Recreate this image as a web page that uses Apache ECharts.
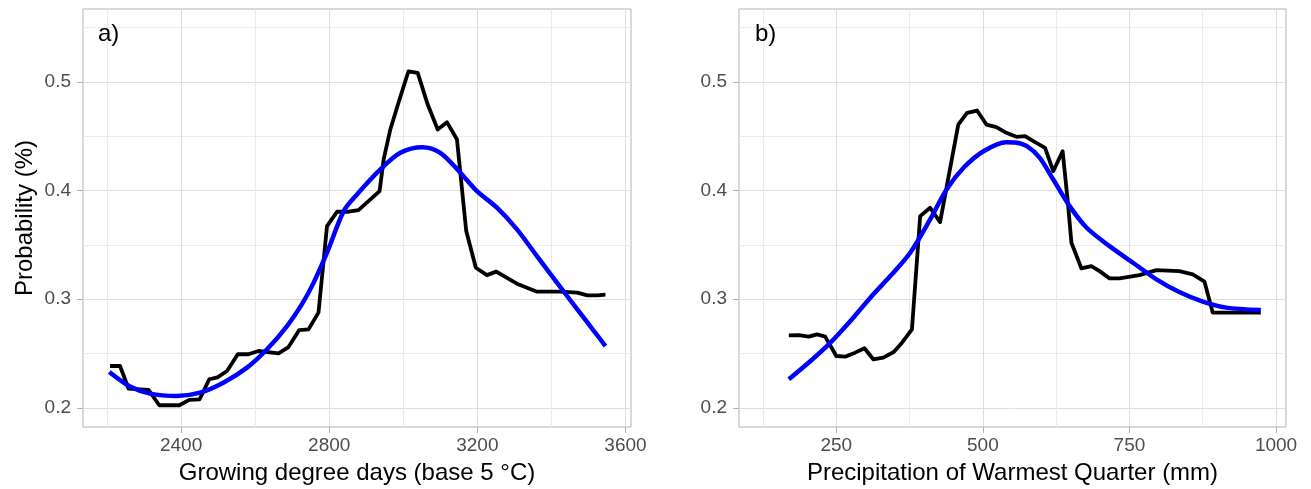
<!DOCTYPE html>
<html>
<head>
<meta charset="utf-8">
<script src="https://cdn.jsdelivr.net/npm/echarts@6/dist/echarts.min.js"></script>
<style>
  html, body { margin: 0; padding: 0; background: #fff; }
  #chart { width: 1311px; height: 489px; }
</style>
</head>
<body>
<div id="chart"></div>
<script>
// panel a: growing degree days
const gddObsX = [2208, 2235, 2258, 2312, 2341, 2395, 2422, 2450, 2476, 2498, 2524, 2553, 2582, 2609, 2663,
  2690, 2719, 2744, 2771, 2794, 2821, 2852, 2879, 2936, 2947, 2965, 2987, 3014, 3039, 3066,
  3093, 3118, 3145, 3170, 3196, 3226, 3251, 3307, 3361, 3424, 3470, 3497, 3524, 3546];
const gddObsY = [0.2386, 0.2386, 0.2178, 0.2166, 0.2025, 0.2025, 0.2074, 0.208, 0.2264, 0.2282, 0.234, 0.2494, 0.2494, 0.2524, 0.2503,
  0.256, 0.2717, 0.2723, 0.2877, 0.3673, 0.3805, 0.3805, 0.382, 0.3995, 0.4286, 0.4562, 0.4807, 0.5097, 0.5083, 0.4791,
  0.4562, 0.4629, 0.447, 0.3627, 0.329, 0.3222, 0.3254, 0.3143, 0.307, 0.307, 0.3061, 0.3036, 0.3036, 0.3042];
const gddFitX = [2206, 2262, 2316, 2388, 2451, 2514, 2578, 2632, 2686, 2726, 2758, 2794, 2839, 2875, 2938,
  2992, 3051, 3100, 3154, 3199, 3253, 3307, 3361, 3415, 3470, 3515, 3546];
const gddFitY = [0.2331, 0.2197, 0.2132, 0.211, 0.2141, 0.2233, 0.2371, 0.254, 0.2754, 0.2953, 0.3153, 0.3428, 0.3811, 0.3964, 0.4194,
  0.4347, 0.4399, 0.4347, 0.4164, 0.3995, 0.3842, 0.3643, 0.3397, 0.3153, 0.2907, 0.2708, 0.257];

// panel b: precipitation of warmest quarter
const precObsX = [169, 186, 203, 217, 231, 250, 265, 282, 298, 313, 330, 348, 362, 379, 393,
  410, 427, 458, 473, 490, 506, 523, 540, 557, 572, 586, 606, 620, 636, 645,
  651, 668, 685, 699, 716, 733, 767, 796, 835, 858, 878, 892, 926, 974];
const precObsY = [0.2668, 0.2671, 0.2656, 0.2677, 0.2656, 0.2478, 0.2472, 0.2509, 0.2549, 0.2448, 0.2463, 0.2515, 0.2601, 0.2723, 0.3765,
  0.3842, 0.371, 0.4607, 0.4715, 0.4736, 0.4607, 0.4583, 0.4531, 0.4494, 0.45, 0.4454, 0.4393, 0.4178, 0.4362, 0.3888,
  0.352, 0.3284, 0.3305, 0.3259, 0.3192, 0.3192, 0.3222, 0.3268, 0.3259, 0.3229, 0.3162, 0.2877, 0.2877, 0.2877];
const precFitX = [169, 206, 240, 274, 308, 342, 376, 410, 438, 467, 501, 540, 555, 575, 597,
  620, 648, 677, 716, 756, 796, 835, 875, 915, 974];
const precFitY = [0.2264, 0.2432, 0.2601, 0.28, 0.3015, 0.3213, 0.3428, 0.3734, 0.401, 0.421, 0.4362, 0.4445, 0.4442, 0.4408, 0.4301,
  0.4102, 0.3857, 0.3658, 0.3489, 0.3336, 0.3183, 0.3066, 0.2978, 0.2923, 0.2901];

// tick labels
const gddTicks = [2400, 2800, 3200, 3600];
const gddMinor = [2200, 2600, 3000, 3400];
const precTicks = [250, 500, 750, 1000];
const precMinor = [125, 375, 625, 875];
const probTicks = [0.2, 0.3, 0.4, 0.5];
const probMinor = [0.25, 0.35, 0.45, 0.55];

const zip = (xs, ys) => xs.map((x, i) => [x, ys[i]]);

const FONT = 'Liberation Sans';
const borderGrey = '#B3B3B3';
const gridGrey = '#DEDEDE';
const minorGrey = '#EBEBEB';

function mainX(gridIndex, min, max, ticks, name) {
  return {
    type: 'value', gridIndex, min, max, position: 'bottom',
    name, nameLocation: 'middle', nameGap: 34,
    nameTextStyle: { fontFamily: FONT, fontSize: 24, color: '#000' },
    axisLine: { show: false },
    axisTick: { show: true, length: 6, customValues: ticks, lineStyle: { color: borderGrey } },
    axisLabel: { customValues: ticks, formatter: v => String(v), fontFamily: FONT, fontSize: 19, color: '#4D4D4D', margin: 9 },
    splitLine: { show: true, lineStyle: { color: gridGrey, width: 1 } }
  };
}
function minorX(gridIndex, min, max, ticks) {
  return {
    type: 'value', gridIndex, min, max, position: 'bottom',
    axisLine: { show: false },
    axisTick: { show: false, customValues: ticks },
    axisLabel: { show: false, customValues: ticks },
    splitLine: { show: true, lineStyle: { color: minorGrey, width: 1 } }
  };
}
function mainY(gridIndex, name) {
  return {
    type: 'value', gridIndex, min: 0.1825, max: 0.567, position: 'left',
    name, nameLocation: 'middle', nameGap: 46,
    nameTextStyle: { fontFamily: FONT, fontSize: 24, color: '#000' },
    axisLine: { show: false },
    axisTick: { show: true, length: 6, customValues: probTicks, lineStyle: { color: borderGrey } },
    axisLabel: { customValues: probTicks, formatter: v => String(v), fontFamily: FONT, fontSize: 19, color: '#4D4D4D', margin: 12 },
    splitLine: { show: true, lineStyle: { color: gridGrey, width: 1 } }
  };
}
function minorY(gridIndex) {
  return {
    type: 'value', gridIndex, min: 0.1825, max: 0.567, position: 'left',
    axisLine: { show: false },
    axisTick: { show: false, customValues: probMinor },
    axisLabel: { show: false, customValues: probMinor },
    splitLine: { show: true, lineStyle: { color: minorGrey, width: 1 } }
  };
}

const chart = echarts.init(document.getElementById('chart'), null, { renderer: 'canvas' });
chart.setOption({
  animation: false,
  backgroundColor: '#fff',
  title: [
    { text: 'a)', left: 93, top: 17, textStyle: { fontFamily: FONT, fontSize: 24, fontWeight: 'normal', color: '#000' } },
    { text: 'b)', left: 750, top: 17, textStyle: { fontFamily: FONT, fontSize: 24, fontWeight: 'normal', color: '#000' } }
  ],
  grid: [
    { left: 83, top: 9, width: 548, height: 418, show: true, borderColor: borderGrey, borderWidth: 1,
      backgroundColor: 'transparent', outerBoundsMode: 'none', containLabel: false },
    { left: 739, top: 9, width: 547, height: 418, show: true, borderColor: borderGrey, borderWidth: 1,
      backgroundColor: 'transparent', outerBoundsMode: 'none', containLabel: false }
  ],
  xAxis: [
    minorX(0, 2135, 3615, gddMinor),
    mainX(0, 2135, 3615, gddTicks, 'Growing degree days (base 5 °C)'),
    minorX(1, 84, 1017, precMinor),
    mainX(1, 84, 1017, precTicks, 'Precipitation of Warmest Quarter (mm)')
  ],
  yAxis: [
    minorY(0),
    mainY(0, 'Probability (%)'),
    minorY(1),
    mainY(1, '')
  ],
  series: [
    { type: 'line', xAxisIndex: 1, yAxisIndex: 1, data: zip(gddObsX, gddObsY), showSymbol: false,
      lineStyle: { color: '#000', width: 3.8, join: 'round' }, z: 3 },
    { type: 'line', xAxisIndex: 1, yAxisIndex: 1, data: zip(gddFitX, gddFitY), showSymbol: false, smooth: 0.3,
      lineStyle: { color: '#0000FF', width: 4.5 }, z: 4 },
    { type: 'line', xAxisIndex: 3, yAxisIndex: 3, data: zip(precObsX, precObsY), showSymbol: false,
      lineStyle: { color: '#000', width: 3.8, join: 'round' }, z: 3 },
    { type: 'line', xAxisIndex: 3, yAxisIndex: 3, data: zip(precFitX, precFitY), showSymbol: false, smooth: 0.3,
      lineStyle: { color: '#0000FF', width: 4.5 }, z: 4 }
  ]
});
</script>
</body>
</html>
